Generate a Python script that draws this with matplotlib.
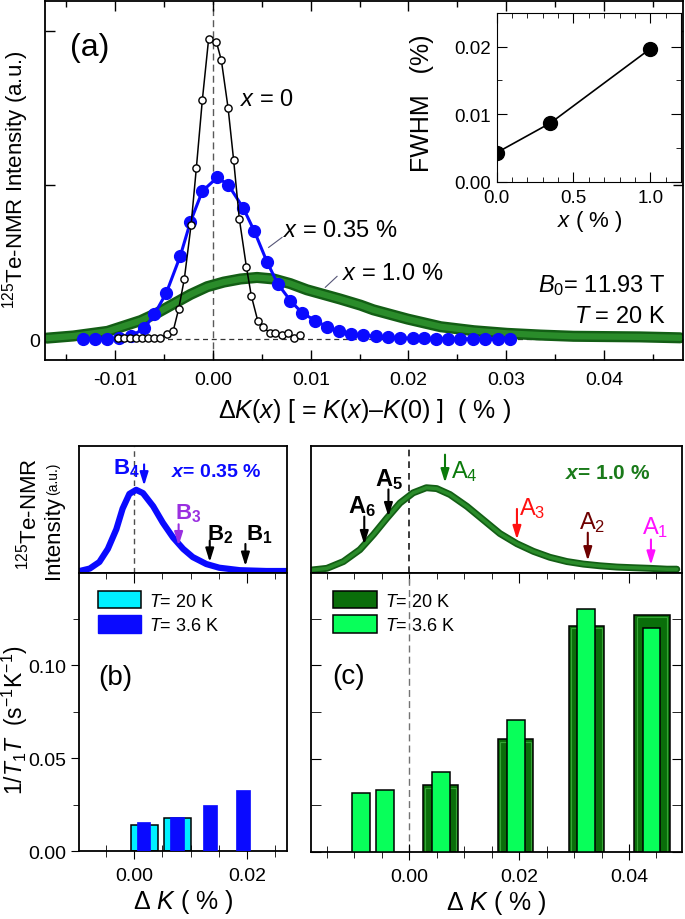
import numpy as np
import matplotlib
matplotlib.use("Agg")
import matplotlib.pyplot as plt
from matplotlib.ticker import MultipleLocator, FormatStrFormatter
from matplotlib.patches import Patch

plt.rcParams['font.family'] = ['Liberation Sans', 'DejaVu Sans']
plt.rcParams['mathtext.fontset'] = 'custom'
plt.rcParams['mathtext.rm'] = 'Liberation Sans'
plt.rcParams['mathtext.it'] = 'Liberation Sans:italic'
plt.rcParams['mathtext.bf'] = 'Liberation Sans:bold'
plt.rcParams['mathtext.bfit'] = 'Liberation Sans:italic:bold'

# ---- (a) spectra at 20 K ----
x0_k = [-0.00976, -0.00915, -0.00854, -0.00788, -0.00727, -0.00669, -0.00608, -0.00547,
        -0.00471, -0.00409, -0.00352, -0.00294, -0.00225, -0.00171, -0.00110, -0.00045,
        0.00034, 0.00085, 0.00154, 0.00211, 0.00269, 0.00341, 0.00392, 0.00457, 0.00512,
        0.00579, 0.00638, 0.00706, 0.00764, 0.00832, 0.00894]
x0_i = [0.005, 0.005, 0.005, 0.005, 0.005, 0.005, 0.005, 0.005,
        0.03, 0.05, 0.195, 0.39, 0.74, 1.11, 1.55, 1.95,
        1.93, 1.81, 1.50, 1.16, 0.78, 0.47, 0.28, 0.12, 0.08,
        0.04, 0.037, 0.026, 0.04, 0.006, 0.028]

x035_k = [-0.01328, -0.01205, -0.01082, -0.00959, -0.00836, -0.00703, -0.00601, -0.00478,
          -0.00335, -0.00232, -0.00110, 0.00044, 0.00157, 0.00310, 0.00423, 0.00553,
          0.00661, 0.00791, 0.00911, 0.01047, 0.01167, 0.01286, 0.01412, 0.01538,
          0.01668, 0.01791, 0.01917, 0.02043, 0.02163, 0.02286, 0.02408, 0.02531,
          0.02661, 0.02787, 0.02913, 0.03043]
x035_i = [0.0, 0.0, 0.0, 0.005, 0.02, 0.07, 0.16, 0.30, 0.54, 0.76, 0.96, 1.05, 1.00, 0.85,
          0.70, 0.50, 0.36, 0.25, 0.17, 0.12, 0.08, 0.05, 0.035, 0.025, 0.018, 0.012,
          0.008, 0.005, 0.004, 0.003, 0.002, 0.002, 0.001, 0.001, 0.001, 0.001]

x10_k = [-0.0170, -0.0143, -0.0108, -0.0074, -0.0057, -0.0040, -0.0023, -0.0006, 0.0011,
         0.0028, 0.0045, 0.0062, 0.0079, 0.0096, 0.0113, 0.0130, 0.0151, 0.0164, 0.0199,
         0.0233, 0.0267, 0.0301, 0.0335, 0.0369, 0.0403, 0.0437, 0.0478]
x10_i = [0.006, 0.02, 0.05, 0.12, 0.17, 0.23, 0.29, 0.34, 0.37, 0.39, 0.40, 0.39, 0.36,
         0.32, 0.29, 0.26, 0.22, 0.19, 0.13, 0.08, 0.054, 0.037, 0.026, 0.018, 0.016,
         0.014, 0.008]

# inset FWHM
conc = [0.0, 0.35, 1.0]
fwhm = [0.0043, 0.0087, 0.0197]

# ---- (b) x = 0.35 % ----
b_k = [-0.0096, -0.0078, -0.0061, -0.0046, -0.0031, -0.0020, -0.0008, 0.0004, 0.0016,
       0.0034, 0.0051, 0.0069, 0.0087, 0.0104, 0.0128, 0.0151, 0.0187, 0.0234, 0.0270]
b_i = [0.0, 0.03, 0.11, 0.27, 0.51, 0.76, 0.94, 0.99, 0.95, 0.79, 0.59, 0.41, 0.27, 0.17,
       0.085, 0.04, 0.01, 0.0, 0.0]
b20_pos = [0.0018, 0.0077]
b20_val = [0.0141, 0.0177]
b36_pos = [0.0017, 0.0076, 0.0134, 0.0193]
b36_val = [0.0159, 0.0186, 0.0249, 0.0330]
b_arrow_x = [0.0018, 0.0079, 0.0134, 0.0197]
b_names = ['4', '3', '2', '1']

# ---- (c) x = 1.0 % ----
c_k = [-0.0178, -0.0150, -0.0120, -0.0090, -0.0065, -0.0041, -0.0017, 0.0007, 0.0031,
       0.0050, 0.0074, 0.0105, 0.0135, 0.0165, 0.0196, 0.0226, 0.0256, 0.0287, 0.0317,
       0.0347, 0.0378, 0.0408, 0.0438, 0.0469, 0.0487]
c_i = [0.02, 0.04, 0.12, 0.26, 0.44, 0.63, 0.81, 0.93, 0.99, 0.98, 0.91, 0.77, 0.61, 0.45,
       0.33, 0.24, 0.17, 0.12, 0.09, 0.07, 0.055, 0.047, 0.04, 0.03, 0.03]
c20_pos = [0.0057, 0.0193, 0.0323, 0.0442]
c20_val = [0.0357, 0.0603, 0.1210, 0.1270]
c36_pos = [-0.0088, -0.0044, 0.0058, 0.0194, 0.0322, 0.0441]
c36_val = [0.0314, 0.0332, 0.0426, 0.0705, 0.1302, 0.1199]
a_arrow_x = [-0.0082, -0.0038, 0.0065, 0.0196, 0.0325, 0.0440]
a_names = ['6', '5', '4', '3', '2', '1']

W, H = 685, 920
fig = plt.figure(figsize=(6.85, 9.2), dpi=100)


def box(l, t, r, b):
    return [l / W, 1 - b / H, (r - l) / W, (b - t) / H]


# ================= panel (a) =================
ax = fig.add_axes(box(45, 2, 683, 361))
ax.axvline(0, color='0.35', ls=(0, (5, 3)), lw=1, zorder=0)
ax.axhline(0, color='0.2', ls=(0, (4, 3)), lw=0.9, zorder=0)
ax.plot(x10_k, x10_i, '-', color='#135e15', lw=8, solid_capstyle='round', zorder=2)
ax.plot(x10_k, x10_i, '-', color='#2a8c2a', lw=4.5, solid_capstyle='round', zorder=2)
ax.plot(x035_k, x035_i, '-o', color='#0a0aff', lw=2.2, ms=8.5, mec='#0a0aff', zorder=3)
ax.plot(x0_k, x0_i, '-o', color='black', lw=1.1, ms=5.2, mfc='white', mec='black',
        mew=1, zorder=4)
ax.set_xlim(-0.0172, 0.0481)
ax.set_ylim(-0.136, 2.195)
ax.xaxis.set_major_locator(MultipleLocator(0.01))
ax.xaxis.set_minor_locator(MultipleLocator(0.005))
ax.xaxis.set_major_formatter(FormatStrFormatter('%.2f'))
ax.set_yticks([0, 1, 2])
ax.set_yticklabels(['0', '', ''])
ax.tick_params(which='both', direction='in', top=True, right=True, labelsize=14)
ax.tick_params(which='major', length=7, width=1)
ax.tick_params(which='minor', length=4, width=1)
ax.tick_params(axis='x', pad=8)
for s in ax.spines.values():
    s.set_linewidth(1.3)
ax.set_xlabel('Δ$\\mathit{K}$($\\mathit{x}$) [ = $\\mathit{K}$($\\mathit{x}$)–$\\mathit{K}$(0) ]  ( % )',
              fontsize=18, labelpad=6)
ax.set_ylabel('$^{125}$Te-NMR Intensity (a.u.)', fontsize=16)
ax.yaxis.set_label_coords((31 - 45) / 638, (361 - 180) / 359)
ax.text(0.0705, 0.872, '(a)', transform=ax.transAxes, fontsize=23, ha='center', va='center')
ax.text(0.0028, 1.56, '$\\mathit{x}$ = 0', fontsize=17, ha='left', va='center')
ax.text(0.0072, 0.71, '$\\mathit{x}$ = 0.35 %', fontsize=17, ha='left', va='center')
ax.text(0.0132, 0.43, '$\\mathit{x}$ = 1.0 %', fontsize=17, ha='left', va='center')
ax.plot([0.00569, 0.00706], [0.595, 0.660], color='#555577', lw=0.8)
ax.plot([0.01149, 0.01269], [0.336, 0.407], color='#555577', lw=0.8)
ax.text(0.0463, 0.31, '$\\mathit{B}_0$= 11.93 T', fontsize=17, ha='right', va='baseline')
ax.text(0.0463, 0.11, '$\\mathit{T}$ = 20 K', fontsize=17, ha='right', va='baseline')

# inset
ins = fig.add_axes(box(496.7, 14, 681, 182.7))
ins.plot(conc, fwhm, '-o', color='black', lw=1.2, ms=10)
ins.set_xlim(0, 1.2)
ins.set_ylim(0, 0.025)
ins.xaxis.set_major_locator(MultipleLocator(0.5))
ins.xaxis.set_minor_locator(MultipleLocator(0.1))
ins.yaxis.set_major_locator(MultipleLocator(0.01))
ins.yaxis.set_minor_locator(MultipleLocator(0.005))
ins.xaxis.set_major_formatter(FormatStrFormatter('%.1f'))
ins.yaxis.set_major_formatter(FormatStrFormatter('%.2f'))
ins.tick_params(which='both', direction='in', top=True, right=True, labelsize=13.5)
ins.tick_params(which='major', length=7)
ins.tick_params(which='minor', length=3.5)
ins.tick_params(axis='x', pad=5)
ins.tick_params(axis='y', pad=4)
fig.text(422 / W, 1 - 103 / H, 'FWHM   (%)', rotation=90, fontsize=18, ha='center', va='center')
fig.text(590 / W, 1 - 222 / H, '$\\mathit{x}$ ( % )', fontsize=16, ha='center', va='center')


def arrow(a, x, y0, y1, c):
    a.annotate('', xy=(x, y1), xytext=(x, y0),
               arrowprops=dict(arrowstyle='-|>,head_length=0.8,head_width=0.25',
                               color=c, lw=1.5, shrinkA=0, shrinkB=0))


def ticks_bottom(a):
    a.xaxis.set_major_locator(MultipleLocator(0.02))
    a.xaxis.set_minor_locator(MultipleLocator(0.005))
    a.xaxis.set_major_formatter(FormatStrFormatter('%.2f'))
    a.yaxis.set_major_locator(MultipleLocator(0.05))
    a.yaxis.set_minor_locator(MultipleLocator(0.025))
    a.tick_params(axis='x', which='both', direction='inout', top=False, labelsize=14, pad=6)
    a.tick_params(axis='x', which='major', length=11)
    a.tick_params(axis='x', which='minor', length=8)
    sec = a.secondary_xaxis('top')
    sec.xaxis.set_major_locator(MultipleLocator(0.02))
    sec.xaxis.set_minor_locator(MultipleLocator(0.005))
    sec.tick_params(which='both', direction='in', labeltop=False)
    sec.tick_params(which='major', length=7)
    sec.tick_params(which='minor', length=4)
    sec.spines['top'].set_visible(False)
    for s in a.spines.values():
        s.set_linewidth(1.3)


# ================= panel (b) =================
bt = fig.add_axes(box(79, 446.7, 287.3, 574))
bt.axvline(0, color='0.3', ls=(0, (4, 3)), lw=1)
bt.plot(b_k, b_i, '-', color='#0a0aff', lw=4.5, solid_capstyle='round')
bt.set_xlim(-0.0097, 0.0271)
bt.set_ylim(-0.024, 1.528)
bt.set_xticks([])
bt.set_yticks([])
for s in bt.spines.values():
    s.set_linewidth(1.3)
b_tail = [1.30, 0.57, 0.37, 0.33]
b_tip = [1.04, 0.31, 0.11, 0.06]
b_col = ['#0a0aff', '#9a2fe0', 'black', 'black']
b_tx = [-0.0013, 0.0096, 0.0152, 0.0222]
b_ty = [1.26, 0.71, 0.45, 0.45]
for xa, y0, y1, c, nm, tx, ty in zip(b_arrow_x, b_tail, b_tip, b_col, b_names, b_tx, b_ty):
    arrow(bt, xa, y0, y1, c)
    bt.text(tx, ty, '$\\mathbf{B}_\\mathbf{' + nm + '}$', color=c, fontsize=16,
            ha='center', va='center')
bt.text(0.0146, 1.21, '$\\mathbfit{x}$= 0.35 %', color='#0a0aff', fontsize=14,
        fontweight='bold', ha='center', va='center')
fig.text(29 / W, 1 - 514 / H, '$^{125}$Te-NMR', rotation=90, fontsize=16, ha='center', va='center')
fig.text(53 / W, 1 - 538 / H, 'Intensity', rotation=90, fontsize=16, ha='center', va='center')
fig.text(53 / W, 1 - 479 / H, '(a.u.)', rotation=90, fontsize=10, ha='center', va='center')

bb = fig.add_axes(box(79, 574, 287.3, 852.3))
bb.bar(b20_pos, b20_val, width=0.0048, color='#00f0ff', edgecolor='black', lw=1.1, zorder=2)
bb.bar(b36_pos, b36_val, width=0.0024, color='#0a0aff', edgecolor='#0a0aff', lw=0.5, zorder=3)
bb.set_xlim(-0.0097, 0.0271)
bb.set_ylim(0, 0.1495)
ticks_bottom(bb)
bb.tick_params(axis='y', which='both', direction='out', right=False, labelsize=14)
bb.tick_params(axis='y', which='major', length=6)
bb.tick_params(axis='y', which='minor', length=4)
bb.yaxis.set_major_formatter(FormatStrFormatter('%.2f'))
bb.set_xlabel('$\\mathit{Δ\\ K}$ ( % )', fontsize=18, labelpad=2)
bb.set_ylabel('$\\mathit{1/T_1T}$  (s$^{-1}$K$^{-1}$)', fontsize=16.5)
bb.yaxis.set_label_coords((30 - 79) / 208.3, (852.3 - 720) / 278.3)
bb.text((115 - 79) / 208.3, (852.3 - 678) / 278.3, '(b)', transform=bb.transAxes,
        fontsize=20, ha='center', va='center')
bb.legend(handles=[Patch(facecolor='#00f0ff', edgecolor='black', lw=1.1),
                   Patch(facecolor='#0a0aff', edgecolor='#0a0aff')],
          labels=['$\\mathit{T}$= 20 K', '$\\mathit{T}$= 3.6 K'],
          loc='upper left', bbox_to_anchor=(0.09, 0.935), frameon=False, fontsize=13,
          handlelength=2.4, handleheight=1.1, handletextpad=0.45, labelspacing=0.3,
          borderpad=0, borderaxespad=0)

# ================= panel (c) =================
ct = fig.add_axes(box(311, 446.5, 681.7, 574))
ct.axvline(0, color='0.1', ls=(0, (4, 3)), lw=1.2)
ct.plot(c_k, c_i, '-', color='#135e15', lw=5, solid_capstyle='round')
ct.plot(c_k, c_i, '-', color='#2a8c2a', lw=2.5, solid_capstyle='round')
ct.set_xlim(-0.0179, 0.0496)
ct.set_ylim(-0.015, 1.488)
ct.set_xticks([])
ct.set_yticks([])
for s in ct.spines.values():
    s.set_linewidth(1.3)
a_tail = [0.65, 0.97, 1.38, 0.74, 0.46, 0.38]
a_tip = [0.32, 0.65, 1.05, 0.38, 0.13, 0.08]
a_col = ['black', 'black', '#0b7a0b', '#ff1010', '#6e0000', '#ff10ff']
a_bold = [True, True, False, False, False, False]
a_tx = [-0.0086, -0.0037, 0.0101, 0.0224, 0.0333, 0.0448]
a_ty = [0.78, 1.10, 1.19, 0.76, 0.59, 0.53]
for xa, y0, y1, c, nm, bold, tx, ty in zip(a_arrow_x, a_tail, a_tip, a_col, a_names,
                                           a_bold, a_tx, a_ty):
    arrow(ct, xa, y0, y1, c)
    lab = '$\\mathbf{A}_\\mathbf{' + nm + '}$' if bold else 'A$_' + nm + '$'
    ct.text(tx, ty, lab, color=c, fontsize=17, ha='center', va='center')
ct.text(0.0362, 1.17, '$\\mathbfit{x}$= 1.0 %', color='#1a7a1a', fontsize=15,
        fontweight='bold', ha='center', va='center')

cb = fig.add_axes(box(311, 574, 681.7, 853))
cb.axvline(0, color='0.45', ls=(0, (5, 3)), lw=1, zorder=1)
cb.bar(c20_pos, c20_val, width=0.0064, color='#0a6e0a', edgecolor='black', lw=1.1, zorder=2)
cb.bar(c20_pos, [v - 0.0012 for v in c20_val], width=0.0056, color='none',
       edgecolor='#35a535', lw=0.8, zorder=2)
cb.bar(c36_pos, c36_val, width=0.0032, color='#08ff5a', edgecolor='black', lw=1.1, zorder=3)
cb.set_xlim(-0.0179, 0.0496)
cb.set_ylim(0, 0.1495)
ticks_bottom(cb)
cb.tick_params(axis='y', which='both', direction='in', right=True, labelleft=False)
cb.tick_params(axis='y', which='major', length=7)
cb.tick_params(axis='y', which='minor', length=7)
cb.set_xlabel('$\\mathit{Δ\\ K}$ ( % )', fontsize=18, labelpad=2)
cb.text((349 - 311) / 370.7, (853 - 677) / 279, '(c)', transform=cb.transAxes,
        fontsize=20, ha='center', va='center')
cb.legend(handles=[Patch(facecolor='#0a6e0a', edgecolor='black', lw=1.1),
                   Patch(facecolor='#08ff5a', edgecolor='black', lw=1.1)],
          labels=['$\\mathit{T}$= 20 K', '$\\mathit{T}$= 3.6 K'],
          loc='upper left', bbox_to_anchor=(0.06, 0.935), frameon=False, fontsize=13,
          handlelength=2.4, handleheight=1.1, handletextpad=0.45, labelspacing=0.3,
          borderpad=0, borderaxespad=0)

fig.savefig('out.png', dpi=100)
